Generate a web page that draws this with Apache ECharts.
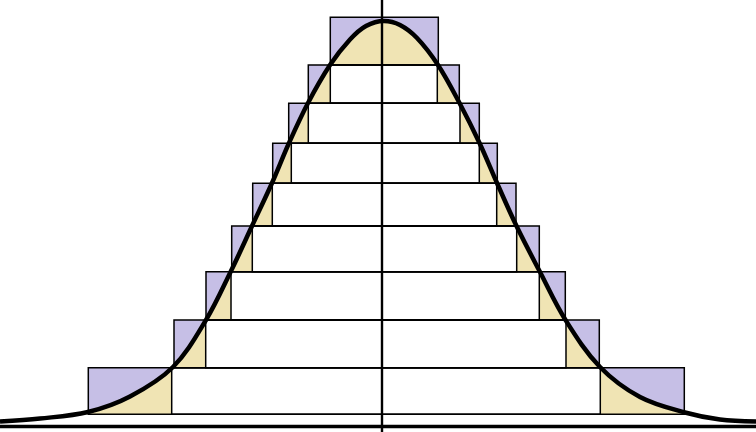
<!DOCTYPE html>
<html>
<head>
<meta charset="utf-8">
<script src="https://cdn.jsdelivr.net/npm/echarts@6/dist/echarts.min.js"></script>
<style>
  html, body { margin: 0; padding: 0; background: #fff; }
  #chart { width: 756px; height: 432px; }
</style>
</head>
<body>
<div id="chart"></div>
<script>
// x: offset from the vertical axis, y: height above the baseline
// layers listed from bottom to top
const layerBottom = [12.2, 58.8, 106.5, 154.8, 200.5, 243.2, 283.2, 323.2, 361.5];
const layerTop = [58.8, 106.5, 154.8, 200.5, 243.2, 283.2, 323.2, 361.5, 409.2];
const outerLeft = [-293.7, -208, -176, -150.3, -129.3, -109.3, -93.3, -73.7, -51.7];
const outerRight = [302.3, 217.3, 183.3, 157.3, 134, 115.3, 97.3, 77.3, 56.3];
const coreLeft = [-210.3, -176.3, -151, -129.7, -109.7, -90.7, -73.7, -51.7, 0];
const coreRight = [218.3, 184, 157.3, 134.7, 114.7, 97.3, 78, 55.3, 0];

// density curve
const curveX = [-382, -342, -294, -252, -209, -176, -151, -130, -110, -93, -74, -52, -32, -16, 2,
                18, 35, 56, 77.5, 97.5, 115, 134.5, 157.5, 183.5, 218, 258, 303, 338, 374];
const curveY = [5, 8, 14.5, 30, 59.5, 106.5, 155.5, 200.5, 243.5, 283.5, 323.5, 361.5, 387, 400.5, 405.5,
                401.5, 388.5, 361.5, 323.5, 283.5, 243.5, 200.5, 155.5, 106.5, 59.5, 29.5, 14, 7, 5];

const xMin = -382, xMax = 374, yMin = -5.5, yMax = 426.5;

const layerData = layerBottom.map((b, i) => [outerLeft[i], outerRight[i], b, layerTop[i], coreLeft[i], coreRight[i]]);
const curveData = curveX.map((x, i) => [x, curveY[i]]);

function box(api, x1, x2, y1, y2) {
    const a = api.coord([x1, y2]);
    const b = api.coord([x2, y1]);
    return { x: a[0], y: a[1], width: b[0] - a[0], height: b[1] - a[1] };
}

const chart = echarts.init(document.getElementById('chart'));

const option = {
    animation: false,
    backgroundColor: '#ffffff',
    grid: { left: 0, right: 0, top: 0, bottom: 0 },
    xAxis: {
        type: 'value', min: xMin, max: xMax, z: 10,
        axisLine: { onZero: true, lineStyle: { color: '#000', width: 3.3 } },
        axisTick: { show: false }, axisLabel: { show: false }, splitLine: { show: false }
    },
    yAxis: {
        type: 'value', min: yMin, max: yMax, z: 10,
        axisLine: { show: true, onZero: true, lineStyle: { color: '#000', width: 2.4 } },
        axisTick: { show: false }, axisLabel: { show: false }, splitLine: { show: false }
    },
    series: [
        {
            // purple layer rectangles
            type: 'custom', z: 1, silent: true,
            renderItem: (params, api) => ({
                type: 'rect',
                shape: box(api, api.value(0), api.value(1), api.value(2), api.value(3)),
                style: { fill: '#c6bfe6' }
            }),
            data: layerData
        },
        {
            // area under the curve
            type: 'line', z: 2, silent: true, smooth: 0.35, symbol: 'none',
            lineStyle: { width: 0 },
            areaStyle: { color: '#f0e4b4', opacity: 1 },
            data: curveData
        },
        {
            // white cores and base strip
            type: 'custom', z: 3, silent: true,
            renderItem: (params, api) => {
                const i = params.dataIndex;
                const children = [];
                if (i === 0) {
                    children.push({ type: 'rect', shape: box(api, xMin, xMax, 0, layerBottom[0]), style: { fill: '#fff' } });
                }
                if (api.value(5) > api.value(4)) {
                    children.push({ type: 'rect', shape: box(api, api.value(4), api.value(5), api.value(2), api.value(3)), style: { fill: '#fff' } });
                }
                return { type: 'group', children };
            },
            data: layerData
        },
        {
            // outlines
            type: 'custom', z: 4, silent: true,
            renderItem: (params, api) => {
                const children = [{
                    type: 'rect',
                    shape: box(api, api.value(0), api.value(1), api.value(2), api.value(3)),
                    style: { fill: 'none', stroke: '#000', lineWidth: 1.5 }
                }];
                if (api.value(5) > api.value(4)) {
                    children.push({
                        type: 'rect',
                        shape: box(api, api.value(4), api.value(5), api.value(2), api.value(3)),
                        style: { fill: 'none', stroke: '#000', lineWidth: 1.5 }
                    });
                }
                return { type: 'group', children };
            },
            data: layerData
        },
        {
            // the curve itself
            type: 'line', z: 5, silent: true, smooth: 0.35, symbol: 'none',
            lineStyle: { color: '#000', width: 4.5 },
            data: curveData
        }
    ]
};

chart.setOption(option);
</script>
</body>
</html>
